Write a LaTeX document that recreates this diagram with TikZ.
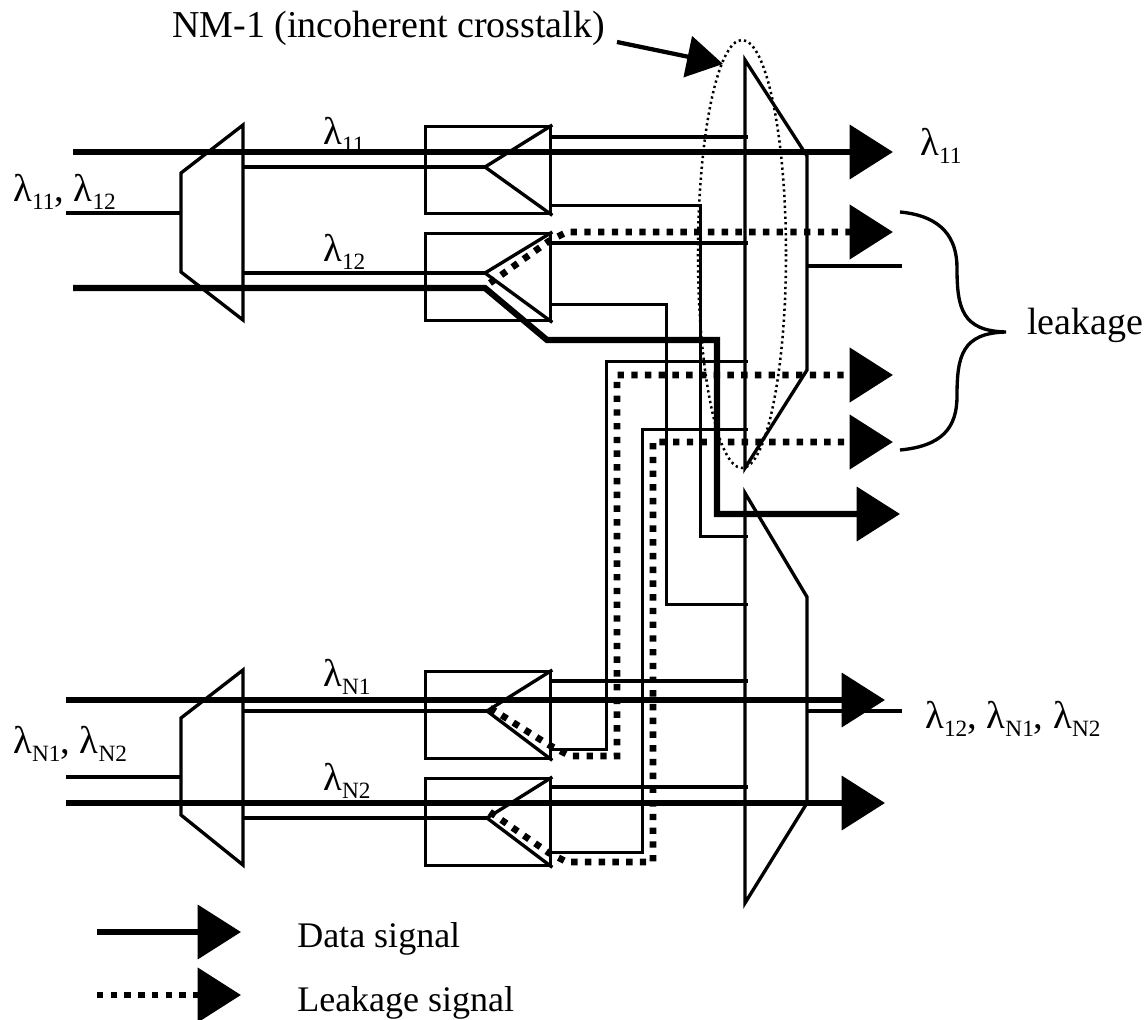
\documentclass[tikz,border=0pt]{standalone}
\usepackage{fontspec}
\setmainfont{Liberation Serif}
\usetikzlibrary{arrows.meta}

\newcommand{\lamsub}[1]{λ\raisebox{-0.22em}{\fontsize{17.5}{20}\selectfont #1}}

\begin{document}
\begin{tikzpicture}[
  x=0.75pt, y=-0.75pt,
  thinl/.style={line width=2.5pt},
  datal/.style={line width=4.6pt},
  leakl/.style={line width=5pt, dash pattern=on 4.8pt off 5.5pt},
  bigtip/.style={-{Triangle[length=32.5pt, width=40pt]}},
  wssbox/.style={
    rectangle, draw, line width=2.5pt, anchor=north west, inner sep=0pt,
    minimum width=93.75pt, minimum height=65.25pt},
  lab/.style={inner sep=0pt, anchor=west, font=\fontsize{27}{30}\selectfont},
  wl/.style={inner sep=0pt, anchor=west, font=\fontsize{29}{30}\selectfont},
]
  \useasboundingbox (0,0) rectangle (1145,1020);

  % ── Filter boxes ─────────────────────────────────────────────────────────
  \node[wssbox] (box11) at (424,125) {};
  \node[wssbox] (box12) at (424,232) {};
  \node[wssbox] (boxN1) at (424,670) {};
  \node[wssbox] (boxN2) at (424,777) {};

  \coordinate (tip11) at (485,167);
  \coordinate (tip12) at (485,273);
  \coordinate (tipN1) at (487,711);
  \coordinate (tipN2) at (487,818);

  \draw[thinl] (box11.north east) -- (tip11) -- (box11.south east);
  \draw[thinl] (box12.north east) -- (tip12) -- (box12.south east);
  \draw[thinl] (boxN1.north east) -- (tipN1) -- (boxN1.south east);
  \draw[thinl] (boxN2.north east) -- (tipN2) -- (boxN2.south east);

  % ── Demultiplexers and multiplexers ──────────────────────────────────────
  \draw[thinl] (243,125) -- (243,320) -- (181,272) -- (181,173) -- cycle;
  \draw[thinl] (243,670) -- (243,865) -- (181,815) -- (181,718) -- cycle;
  \draw[thinl] (745,60) -- (745,468) -- (807,370) -- (807,156) -- cycle;
  \draw[thinl] (745,493) -- (745,903) -- (807,803) -- (807,597) -- cycle;

  \coordinate (dema) at (243,167);
  \coordinate (demb) at (243,273);
  \coordinate (demc) at (243,711);
  \coordinate (demd) at (243,818);

  % ── Thin fibres ──────────────────────────────────────────────────────────
  \draw[thinl] (66,213) -- (181,213);
  \draw[thinl] (66,777) -- (181,777);
  \draw[thinl] (dema) -- (tip11);
  \draw[thinl] (demb) -- (tip12);
  \draw[thinl] (demc) -- (tipN1);
  \draw[thinl] (demd) -- (tipN2);
  \draw[thinl] (807,266) -- (902,266);
  \draw[thinl] (807,711) -- (902,711);

  \draw[thinl] (box11.north east) ++(0,12) -- ++(196,0);
  \draw[thinl] (box12.north east) ++(0,11) -- ++(196,0);
  \draw[thinl] (boxN1.north east) ++(0,11) -- ++(196,0);
  \draw[thinl] (boxN2.north east) ++(0,10) -- ++(196,0);

  \draw[thinl] (box11.south east) ++(0,-10) -- ++(148,0) -- ++(0,331) -- ++(48,0);
  \draw[thinl] (box12.south east) ++(0,-18) -- ++(114,0) -- ++(0,300) -- ++(82,0);
  \draw[thinl] (boxN1.south east) ++(0,-11) -- ++(54,0) -- ++(0,-388) -- ++(142,0);
  \draw[thinl] (boxN2.south east) ++(0,-15) -- ++(90,0) -- ++(0,-423) -- ++(106,0);

  % ── NM-1 ellipse ─────────────────────────────────────────────────────────
  \draw[line width=1.9pt, dash pattern=on 1.7pt off 2.4pt] (742,254) ellipse (44 and 214);

  % ── Data signals ─────────────────────────────────────────────────────────
  \draw[datal, bigtip] (73,152) -- (893,152);
  \draw[datal, bigtip] (73,288) -- (485,288) -- (547,340) -- (717,340)
      -- (717,514) -- (900,514);
  \draw[datal, bigtip] (66,700) -- (885,700);
  \draw[datal, bigtip] (66,803) -- (885,803);

  % ── Leakage signals ──────────────────────────────────────────────────────
  \draw[leakl, bigtip] (490,283) -- (549,241) -- (567,232) -- (893,232);
  \draw[leakl, bigtip] (490,708) -- (549,745) -- (570,756) -- (617,756)
      -- (617,375) -- (893,375);
  \draw[leakl, bigtip] (490,812) -- (549,853) -- (567,862) -- (653,862)
      -- (653,442) -- (893,442);

  % ── Leakage brace ────────────────────────────────────────────────────────
  \draw[thinl] (900,212) .. controls (942,216) and (957,238) .. (957,268)
      .. controls (957,308) and (962,331) .. (1006,332)
      .. controls (962,333) and (957,356) .. (957,396)
      .. controls (957,428) and (942,446) .. (900,450);

  % ── Crosstalk pointer ────────────────────────────────────────────────────
  \node[lab, font=\fontsize{28.5}{30}\selectfont] (nmlab) at (172,28) {NM-1 (incoherent crosstalk)};
  \coordinate (nmtail) at (617,42);
  \coordinate (nmhead) at (723,64);
  \draw[line width=3.2pt, -{Triangle[length=27pt, width=31pt]}] (nmtail) -- (nmhead);

  % ── Labels ───────────────────────────────────────────────────────────────
  \node[lab, font=\fontsize{28.5}{30}\selectfont] (leaklab) at (1027,325) {leakage};
  \node[wl] (l11)  at (323,135) {\lamsub{11}};
  \node[wl] (l12)  at (323,252) {\lamsub{12}};
  \node[wl] (lN1)  at (323,677) {\lamsub{N1}};
  \node[wl] (lN2)  at (323,781) {\lamsub{N2}};
  \node[wl] (lin1) at (13,192)  {\lamsub{11}, \lamsub{12}};
  \node[wl] (linN) at (13,744)  {\lamsub{N1}, \lamsub{N2}};
  \node[wl] (lout1) at (920,146) {\lamsub{11}};
  \node[wl] (loutN) at (925,719) {\lamsub{12}, \lamsub{N1}, \lamsub{N2}};

  % ── Legend ───────────────────────────────────────────────────────────────
  \draw[datal, bigtip] (97,932) -- (241,932);
  \draw[leakl, bigtip] (97,995) -- (241,995);
  \node[lab] (datalab) at (297,939) {Data signal};
  \node[lab] (leaklg)  at (297,1003) {Leakage signal};
\end{tikzpicture}
\end{document}
